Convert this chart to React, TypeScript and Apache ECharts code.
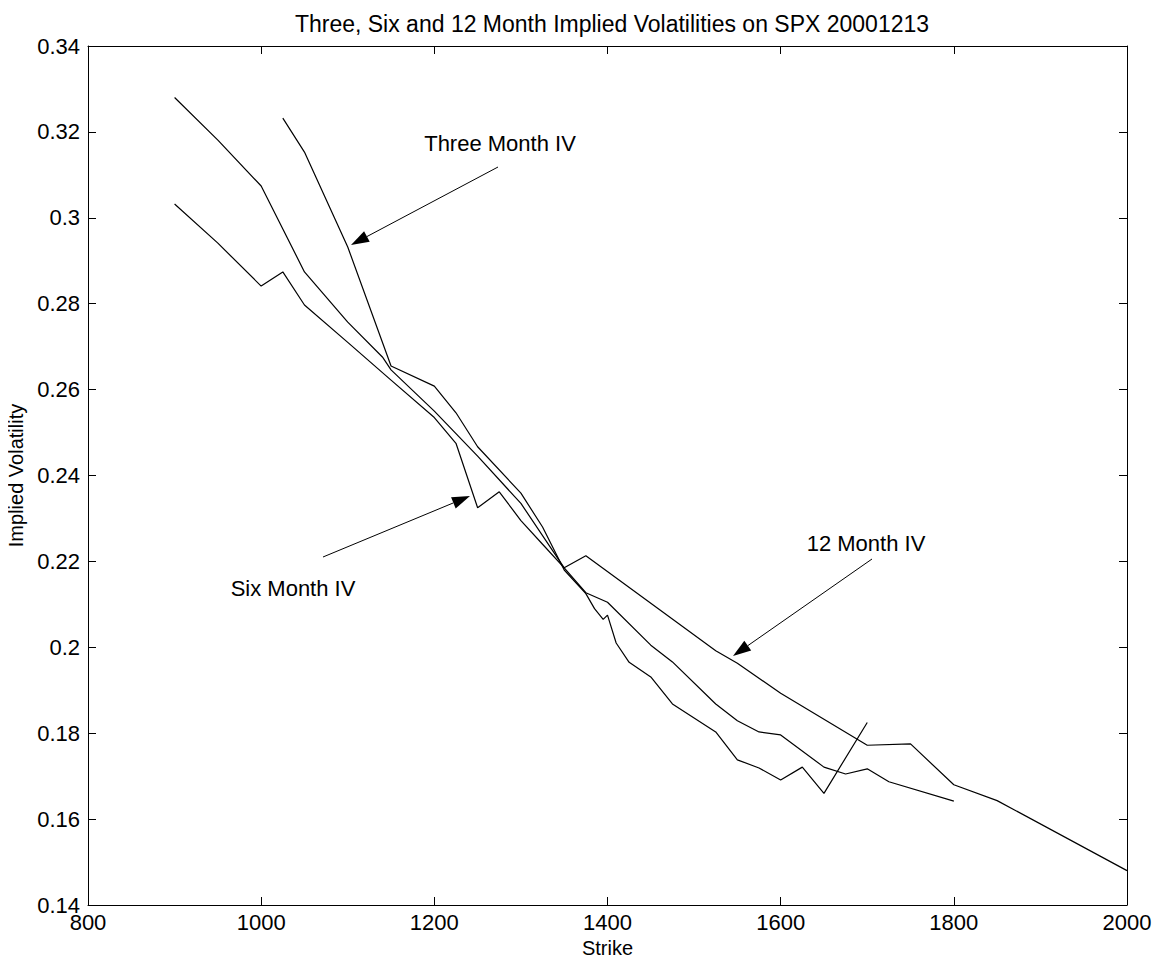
import { useEffect, useRef } from "react";
import * as echarts from "echarts";

const threeMonth: [number, number][] = [
  [1025, 0.3232], [1050, 0.3153], [1100, 0.2932], [1150, 0.2655], [1200, 0.2608],
  [1225, 0.2546], [1250, 0.2467], [1300, 0.2359], [1325, 0.228], [1350, 0.218],
  [1375, 0.2125], [1385, 0.209], [1395, 0.2065], [1400, 0.2075], [1410, 0.201],
  [1425, 0.1965], [1450, 0.1931], [1475, 0.1868], [1525, 0.1803], [1550, 0.1738],
  [1575, 0.1719], [1600, 0.1691], [1625, 0.1721], [1650, 0.166], [1700, 0.1825],
];

const sixMonth: [number, number][] = [
  [900, 0.3032], [950, 0.2941], [1000, 0.2841], [1025, 0.2874], [1050, 0.2797],
  [1100, 0.271], [1150, 0.2622], [1200, 0.2535], [1225, 0.2475], [1250, 0.2325],
  [1275, 0.2362], [1300, 0.2295], [1325, 0.224], [1350, 0.2185], [1375, 0.2127],
  [1400, 0.2105], [1450, 0.2005], [1475, 0.1966], [1525, 0.1868], [1550, 0.1829],
  [1575, 0.1803], [1600, 0.1796], [1650, 0.1721], [1675, 0.1705], [1700, 0.1717],
  [1725, 0.1687], [1800, 0.1642],
];

const twelveMonth: [number, number][] = [
  [900, 0.328], [950, 0.3181], [1000, 0.3074], [1050, 0.2874], [1100, 0.2757],
  [1140, 0.2676], [1150, 0.2646], [1200, 0.255], [1250, 0.2445], [1300, 0.2335],
  [1350, 0.2185], [1375, 0.2213], [1525, 0.1992], [1550, 0.1963], [1600, 0.1893],
  [1700, 0.1772], [1750, 0.1775], [1800, 0.168], [1850, 0.1643], [2000, 0.148],
];

const font = "Liberation Sans, Arial, sans-serif";
// body margin offset
const O = 8;

function arrow(x1: number, y1: number, x2: number, y2: number) {
  x1 -= O; y1 -= O; x2 -= O; y2 -= O;
  const a = Math.atan2(y2 - y1, x2 - x1);
  const L = 18, W = 6;
  const bx = x2 - L * Math.cos(a), by = y2 - L * Math.sin(a);
  const px = -Math.sin(a) * W, py = Math.cos(a) * W;
  return [
    { type: "line", shape: { x1, y1, x2: bx, y2: by }, style: { stroke: "#000", lineWidth: 1 } },
    {
      type: "polygon",
      shape: { points: [[x2, y2], [bx + px, by + py], [bx - px, by - py]] },
      style: { fill: "#000" },
    },
  ];
}

function label(text: string, x: number, y: number) {
  return {
    type: "text", x: x - O, y: y - O,
    style: { text, fill: "#000", font: `22px ${font}`, align: "center", verticalAlign: "middle" },
  };
}

export default function App() {
  const ref = useRef<HTMLDivElement>(null);

  useEffect(() => {
    if (!ref.current) return;
    const chart = echarts.init(ref.current, null, { renderer: "svg" });
    const axisCommon = {
      type: "value" as const,
      axisLine: { show: true, lineStyle: { color: "#000", width: 1 } },
      axisTick: { show: true, inside: true, length: 8, lineStyle: { color: "#000" } },
      splitLine: { show: false },
    };
    const series = [threeMonth, sixMonth, twelveMonth].map((d) => ({
      type: "line",
      data: d,
      symbol: "none",
      lineStyle: { color: "#000", width: 1.2 },
    }));
    chart.setOption({
      animation: false,
      backgroundColor: "#fff",
      title: {
        text: "Three, Six and 12 Month Implied Volatilities on SPX 20001213",
        left: 607 - O, top: -1, textAlign: "center",
        textStyle: { fontFamily: font, fontSize: 23, fontWeight: "normal", color: "#000" },
      },
      grid: { left: 80, right: 32, top: 38, bottom: 57, containLabel: false, outerBoundsMode: "none" },
      xAxis: [
        {
          ...axisCommon, min: 800, max: 2000, interval: 200, position: "bottom",
          name: "Strike", nameLocation: "middle", nameGap: 31,
          nameTextStyle: { fontFamily: font, fontSize: 20, color: "#000" },
          axisLabel: { fontFamily: font, fontSize: 22, color: "#000", margin: 6, formatter: (v: number) => String(v) },
        },
        { ...axisCommon, min: 800, max: 2000, interval: 200, position: "top", axisLabel: { show: false } },
      ],
      yAxis: [
        {
          ...axisCommon, min: 0.14, max: 0.34, interval: 0.02, position: "left",
          name: "Implied Volatility", nameLocation: "middle", nameGap: 52,
          nameTextStyle: { fontFamily: font, fontSize: 20, color: "#000" },
          axisLabel: { fontFamily: font, fontSize: 22, color: "#000", margin: 8, formatter: (v: number) => String(+v.toFixed(2)) },
        },
        { ...axisCommon, min: 0.14, max: 0.34, interval: 0.02, position: "right", axisLabel: { show: false } },
      ],
      series,
      graphic: [
        label("Three Month IV", 500, 143),
        ...arrow(498, 167, 351, 245),
        label("Six Month IV", 293, 588),
        ...arrow(323, 557, 470, 496),
        label("12 Month IV", 866, 543),
        ...arrow(872, 559, 733, 656),
      ],
    });
    return () => chart.dispose();
  }, []);

  return <div ref={ref} style={{ width: 1151, height: 954 }} />;
}
